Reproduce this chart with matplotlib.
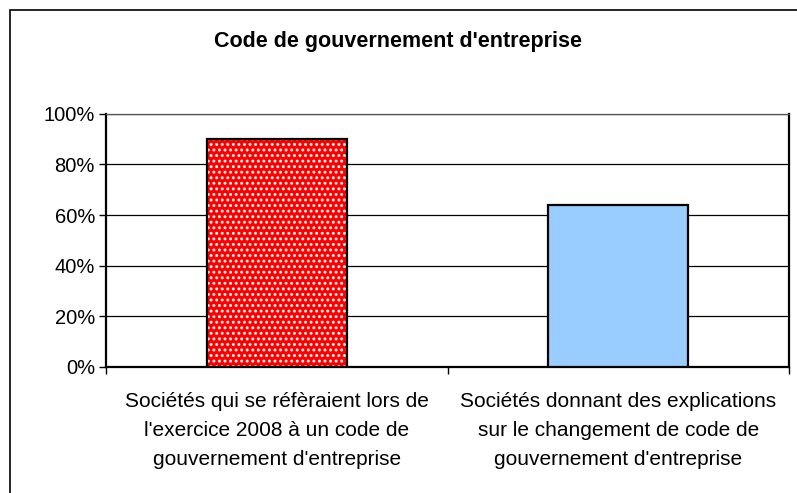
import matplotlib.pyplot as plt
from matplotlib.patches import Rectangle
from matplotlib.ticker import PercentFormatter

plt.rcParams['font.family'] = ['Liberation Sans', 'DejaVu Sans']
plt.rcParams['hatch.linewidth'] = 1.3

# Data
categories = [
    "Sociétés qui se réfèraient lors de\nl'exercice 2008 à un code de\ngouvernement d'entreprise",
    "Sociétés donnant des explications\nsur le changement de code de\ngouvernement d'entreprise",
]
values = [0.90, 0.64]
colors = ['#FF0000', '#99CCFF']
hatches = ['...', None]
yticks = [0, 0.2, 0.4, 0.6, 0.8, 1.0]
title = "Code de gouvernement d'entreprise"

fig = plt.figure(figsize=(7.97, 4.93), dpi=100)
ax = fig.add_axes([0.133, 0.256, 0.857, 0.513])

# outer chart border (only left and top visible, rest cut off)
fig.patches.append(Rectangle((10 / 797, -0.1), 1.2, 1 - 10 / 493 + 0.1,
                             transform=fig.transFigure, fill=False,
                             edgecolor='black', linewidth=1.2))

x = range(len(categories))
for i, v in enumerate(values):
    if hatches[i]:
        ax.bar(i, v, width=0.41, color=colors[i], hatch=hatches[i],
               edgecolor='white', linewidth=0, zorder=3)
        ax.bar(i, v, width=0.41, fill=False, edgecolor='black',
               linewidth=1.6, zorder=4)
    else:
        ax.bar(i, v, width=0.41, color=colors[i], edgecolor='black',
               linewidth=1.6, zorder=3)

ax.set_xlim(-0.5, len(categories) - 0.5)
ax.set_ylim(0, 1.0)
ax.set_yticks(yticks)
ax.yaxis.set_major_formatter(PercentFormatter(1.0, decimals=0))
ax.yaxis.grid(True, color='black', linewidth=0.9)
ax.set_axisbelow(True)

ax.set_xticks(list(x))
ax.set_xticklabels(categories, fontsize=15, linespacing=1.68)
ax.set_xticks([-0.5, 0.5, 1.5], minor=True)
ax.tick_params(axis='x', which='major', length=0, pad=18)
ax.tick_params(axis='x', which='minor', length=5, width=1)
ax.tick_params(axis='y', length=5, width=1, labelsize=14.5, pad=3)

for s in ['left', 'bottom']:
    ax.spines[s].set_linewidth(1.6)
ax.spines['right'].set_linewidth(1.6)
ax.spines['top'].set_linewidth(0.9)
ax.spines['top'].set_color('#555555')

fig.text(0.5, 1 - 42 / 493, title, ha='center', va='center',
         fontsize=15.5, fontweight='bold')

fig.savefig('out.png', dpi=100)
